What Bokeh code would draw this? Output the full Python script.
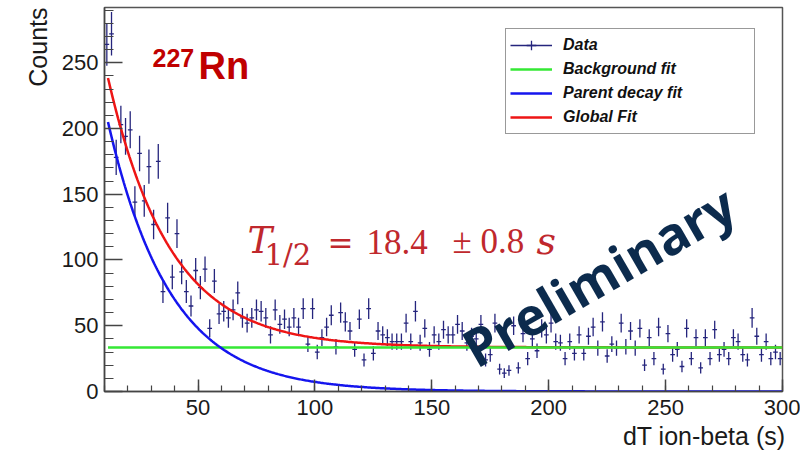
import numpy as np
from bokeh.plotting import figure
from bokeh.models import (ColumnDataSource, Range1d, SingleIntervalTicker, Label,
                          Legend, LegendItem, Title)
from bokeh.embed import file_html
from bokeh.resources import INLINE

# ---- histogram: 2 s bins between 10 s and 300 s ----
bin_width = 2.0
bin_centers = list(range(11, 300, 2))
counts = [
    264, 272, 178, 203, 194, 199, 144, 181, 145, 171,
    127, 175, 76, 132, 87, 120, 91, 76, 65, 92,
    79, 93, 48, 84, 59, 61, 56, 62, 75, 56,
    52, 56, 62, 61, 56, 43, 62, 51, 55, 49,
    56, 49, 63, 36, 63, 30, 41, 49, 58, 34,
    60, 53, 46, 32, 55, 24, 63, 29, 46, 43,
    41, 38, 38, 38, 52, 38, 61, 37, 48, 32,
    43, 38, 47, 43, 43, 51, 46, 37, 42, 40,
    51, 24, 28, 52, 17, 14, 16, 50, 18, 44,
    25, 40, 31, 48, 43, 52, 38, 37, 25, 38,
    29, 43, 29, 42, 49, 33, 53, 27, 36, 33,
    52, 34, 46, 33, 48, 20, 41, 25, 49, 17,
    44, 28, 32, 19, 48, 25, 41, 18, 41, 25,
    47, 28, 32, 25, 41, 38, 28, 24, 56, 42,
    28, 38, 25, 30, 25,
]

# ---- fit results ----
half_life = 18.4        # s
half_life_err = 0.8     # s
background = 33.5       # counts / bin
parent_amp = 316.0      # parent counts / bin extrapolated to t = 0
fit_start, fit_end = 11.5, 300.0

legend_labels = ["Data", "Background fit", "Parent decay fit", "Global Fit"]

DATA_COLOR = "#25257d"
RED = "#ee1515"
BLUE = "#1515ee"
GREEN = "#35e835"
TEXT_RED = "#c0282d"
NAVY = "#0c2b4d"

t = np.array(bin_centers, dtype=float)
n = np.array(counts, dtype=float)
err = np.sqrt(n)
src = ColumnDataSource(dict(
    x=t, y=n, y0=n - err, y1=n + err,
    xl=t - bin_width / 2, xr=t + bin_width / 2,
))

lam = np.log(2) / half_life
tt = np.linspace(fit_start, fit_end, 600)
parent = parent_amp * np.exp(-lam * tt)
bkg = np.full_like(tt, background)
total = parent + bkg

p = figure(width=800, height=452, output_backend="svg", toolbar_location=None,
           x_range=Range1d(10, 300), y_range=Range1d(0, 292),
           min_border_left=104, min_border_right=18, min_border_top=7,
           min_border_bottom=60)
p.background_fill_color = "white"
p.border_fill_color = "white"
p.outline_line_color = "#555555"
p.outline_line_width = 1.5
p.grid.visible = False

for ax in (p.xaxis, p.yaxis):
    ax.ticker = SingleIntervalTicker(interval=50, num_minor_ticks=5)
    ax.axis_line_color = "#444444"
    ax.axis_line_width = 1.5
    ax.major_tick_line_color = "#444444"
    ax.major_tick_line_width = 1.5
    ax.minor_tick_line_color = "#444444"
    ax.minor_tick_line_width = 1.2
    ax.major_tick_out = 0
    ax.minor_tick_out = 0
    ax.major_label_text_font = "Liberation Sans"
    ax.major_label_text_font_size = "22px"
    ax.major_label_text_color = "#1a1a1a"
p.xaxis.major_tick_in = 12
p.xaxis.minor_tick_in = 6
p.xaxis.major_label_standoff = 8
p.yaxis.major_tick_in = 18
p.yaxis.minor_tick_in = 9
p.yaxis.major_label_standoff = 6

# axis titles, ROOT style: pushed to the end of each axis
xtitle = Title(text="dT ion-beta (s)", align="right", text_font="Liberation Sans",
               text_font_size="25px", text_font_style="normal",
               text_color="#1a1a1a", standoff=5, offset=-3)
p.add_layout(xtitle, "below")
ytitle = Title(text="Counts", align="right", text_font="Liberation Sans",
               text_font_size="25px", text_font_style="normal",
               text_color="#1a1a1a", standoff=14)
p.add_layout(ytitle, "left")

# data points with error bars
r_dh = p.segment(x0="xl", y0="y", x1="xr", y1="y", source=src,
                 line_color=DATA_COLOR, line_width=1.3)
p.segment(x0="x", y0="y0", x1="x", y1="y1", source=src,
          line_color=DATA_COLOR, line_width=1.3)
# zero-size markers: only the legend shows them
r_dmark = p.scatter(x="x", y="y", source=src, marker="cross", size=0,
                    line_color=DATA_COLOR, line_width=1.3)

# fit curves
r_tot = p.line(tt, total, line_color=RED, line_width=2.5)
r_bkg = p.line(tt, bkg, line_color=GREEN, line_width=2.5)
r_par = p.line(tt, parent, line_color=BLUE, line_width=2.5)

legend = Legend(items=[
    LegendItem(label=legend_labels[0], renderers=[r_dh, r_dmark], index=0),
    LegendItem(label=legend_labels[1], renderers=[r_bkg]),
    LegendItem(label=legend_labels[2], renderers=[r_par]),
    LegendItem(label=legend_labels[3], renderers=[r_tot]),
], location=(401, 257))
legend.label_text_font = "Liberation Sans"
legend.label_text_font_style = "bold italic"
legend.label_text_font_size = "16px"
legend.label_text_color = "#111111"
legend.glyph_width = 42
legend.glyph_height = 24
legend.label_height = 24
legend.label_width = 187
legend.label_standoff = 11
legend.spacing = 0
legend.padding = 4
legend.margin = 0
legend.border_line_color = "#333333"
legend.border_line_width = 1.2
legend.background_fill_alpha = 1.0
p.add_layout(legend)


def add_label(txt, sx, sy, size, color, font="Liberation Sans", style="normal",
              angle=0.0, align="left", baseline="alphabetic"):
    p.add_layout(Label(x=sx, y=sy, x_units="screen", y_units="screen", text=txt,
                       text_font=font, text_font_size=f"{size}px",
                       text_font_style=style, text_color=color, angle=angle,
                       text_align=align, text_baseline=baseline))


# isotope tag
add_label("227", 48, 334, 25, "#c00000", style="bold")
add_label("Rn", 94, 326, 38, "#c00000", style="bold")

# half-life result
add_label("T", 143, 151, 37, TEXT_RED, font="DejaVu Serif", style="italic")
add_label("1/2", 160, 137, 29, TEXT_RED, font="DejaVu Serif")
add_label("=", 223, 149, 31, TEXT_RED, font="DejaVu Serif")
add_label(f"{half_life:.1f}", 262, 150, 35, TEXT_RED, font="Liberation Serif")
add_label(f"\u00b1 {half_life_err:.1f}", 348, 150, 35, TEXT_RED, font="Liberation Serif")
add_label("s", 432, 151, 38, TEXT_RED, font="DejaVu Serif", style="italic")

# watermark
add_label("Preliminary", 362, 40, 52, NAVY, font="Open Sans", style="bold",
          angle=np.radians(30))

open("out.html", "w").write(file_html(p, INLINE))
